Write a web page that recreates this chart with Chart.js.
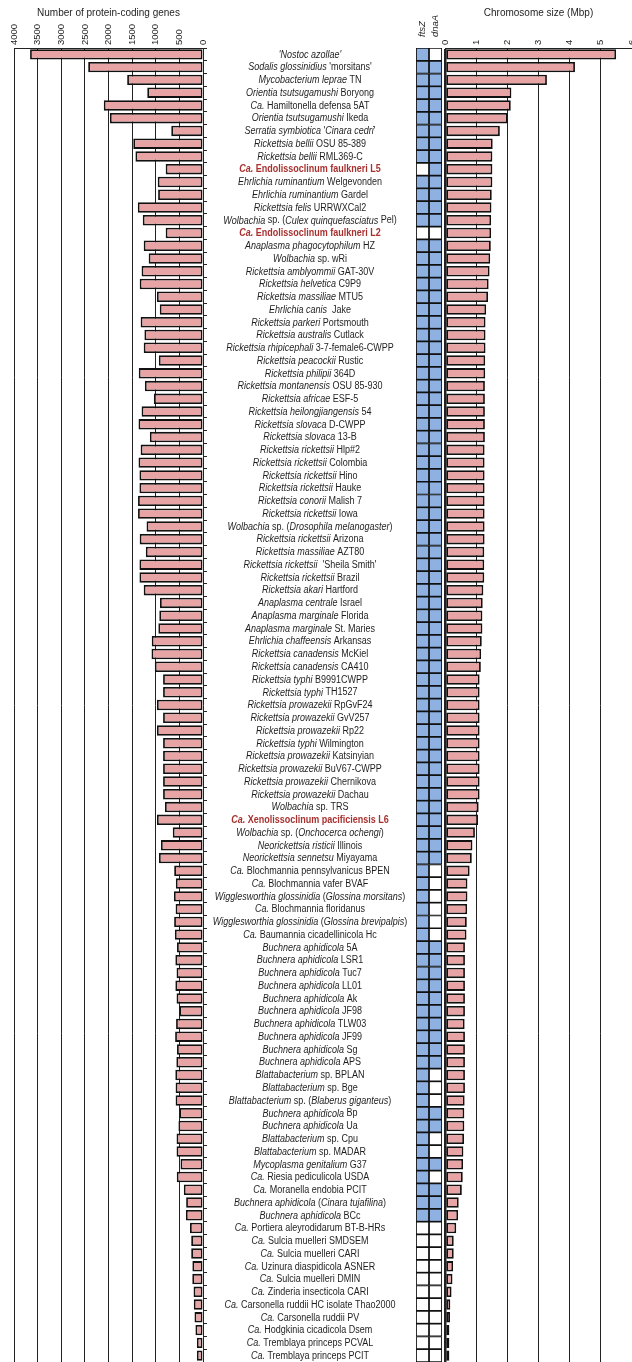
<!DOCTYPE html>
<html>
<head>
<meta charset="utf-8">
<script src="https://cdn.jsdelivr.net/npm/chart.js@4.4.1/dist/chart.umd.min.js"></script>
<style>
  html, body { margin: 0; padding: 0; background: #fff; overflow: hidden; }
  #wrap { position: relative; width: 632px; height: 1362px; overflow: hidden; }
  canvas { position: absolute; top: 0; }
  #genes { left: 0; }
  #markers { left: 405px; }
  #size { left: 440px; }
</style>
</head>
<body>
<div id="wrap">
  <canvas id="genes" width="420" height="1362"></canvas>
  <canvas id="markers" width="40" height="1362"></canvas>
  <canvas id="size" width="200" height="1362"></canvas>
</div>
<script>
// Genome names; text between underscores is set in italics.
const genomes = [
  "_'Nostoc azollae'_",
  "_Sodalis glossinidius_ 'morsitans'",
  "_Mycobacterium leprae_ TN",
  "_Orientia tsutsugamushi_ Boryong",
  "_Ca._ Hamiltonella defensa 5AT",
  "_Orientia tsutsugamushi_ Ikeda",
  "_Serratia symbiotica_ '_Cinara cedri_'",
  "_Rickettsia bellii_ OSU 85-389",
  "_Rickettsia bellii_ RML369-C",
  "_Ca._ Endolissoclinum faulkneri L5",
  "_Ehrlichia ruminantium_ Welgevonden",
  "_Ehrlichia ruminantium_ Gardel",
  "_Rickettsia felis_ URRWXCal2",
  "_Wolbachia_ sp. (_Culex quinquefasciatus_ Pel)",
  "_Ca._ Endolissoclinum faulkneri L2",
  "_Anaplasma phagocytophilum_ HZ",
  "_Wolbachia_ sp. wRi",
  "_Rickettsia amblyommii_ GAT-30V",
  "_Rickettsia helvetica_ C9P9",
  "_Rickettsia massiliae_ MTU5",
  "_Ehrlichia canis_  Jake",
  "_Rickettsia parkeri_ Portsmouth",
  "_Rickettsia australis_ Cutlack",
  "_Rickettsia rhipicephali_ 3-7-female6-CWPP",
  "_Rickettsia peacockii_ Rustic",
  "_Rickettsia philipii_ 364D",
  "_Rickettsia montanensis_ OSU 85-930",
  "_Rickettsia africae_ ESF-5",
  "_Rickettsia heilongjiangensis_ 54",
  "_Rickettsia slovaca_ D-CWPP",
  "_Rickettsia slovaca_ 13-B",
  "_Rickettsia rickettsii_ Hlp#2",
  "_Rickettsia rickettsii_ Colombia",
  "_Rickettsia rickettsii_ Hino",
  "_Rickettsia rickettsii_ Hauke",
  "_Rickettsia conorii_ Malish 7",
  "_Rickettsia rickettsii_ Iowa",
  "_Wolbachia_ sp. (_Drosophila melanogaster_)",
  "_Rickettsia rickettsii_ Arizona",
  "_Rickettsia massiliae_ AZT80",
  "_Rickettsia rickettsii_  'Sheila Smith'",
  "_Rickettsia rickettsii_ Brazil",
  "_Rickettsia akari_ Hartford",
  "_Anaplasma centrale_ Israel",
  "_Anaplasma marginale_ Florida",
  "_Anaplasma marginale_ St. Maries",
  "_Ehrlichia chaffeensis_ Arkansas",
  "_Rickettsia canadensis_ McKiel",
  "_Rickettsia canadensis_ CA410",
  "_Rickettsia typhi_ B9991CWPP",
  "_Rickettsia typhi_ TH1527",
  "_Rickettsia prowazekii_ RpGvF24",
  "_Rickettsia prowazekii_ GvV257",
  "_Rickettsia prowazekii_ Rp22",
  "_Rickettsia typhi_ Wilmington",
  "_Rickettsia prowazekii_ Katsinyian",
  "_Rickettsia prowazekii_ BuV67-CWPP",
  "_Rickettsia prowazekii_ Chernikova",
  "_Rickettsia prowazekii_ Dachau",
  "_Wolbachia_ sp. TRS",
  "_Ca._ Xenolissoclinum pacificiensis L6",
  "_Wolbachia_ sp. (_Onchocerca ochengi_)",
  "_Neorickettsia risticii_ Illinois",
  "_Neorickettsia sennetsu_ Miyayama",
  "_Ca._ Blochmannia pennsylvanicus BPEN",
  "_Ca._ Blochmannia vafer BVAF",
  "_Wigglesworthia glossinidia_ (_Glossina morsitans_)",
  "_Ca._ Blochmannia floridanus",
  "_Wigglesworthia glossinidia_ (_Glossina brevipalpis_)",
  "_Ca._ Baumannia cicadellinicola Hc",
  "_Buchnera aphidicola_ 5A",
  "_Buchnera aphidicola_ LSR1",
  "_Buchnera aphidicola_ Tuc7",
  "_Buchnera aphidicola_ LL01",
  "_Buchnera aphidicola_ Ak",
  "_Buchnera aphidicola_ JF98",
  "_Buchnera aphidicola_ TLW03",
  "_Buchnera aphidicola_ JF99",
  "_Buchnera aphidicola_ Sg",
  "_Buchnera aphidicola_ APS",
  "_Blattabacterium_ sp. BPLAN",
  "_Blattabacterium_ sp. Bge",
  "_Blattabacterium_ sp. (_Blaberus giganteus_)",
  "_Buchnera aphidicola_ Bp",
  "_Buchnera aphidicola_ Ua",
  "_Blattabacterium_ sp. Cpu",
  "_Blattabacterium_ sp. MADAR",
  "_Mycoplasma genitalium_ G37",
  "_Ca._ Riesia pediculicola USDA",
  "_Ca._ Moranella endobia PCIT",
  "_Buchnera aphidicola_ (_Cinara tujafilina_)",
  "_Buchnera aphidicola_ BCc",
  "_Ca._ Portiera aleyrodidarum BT-B-HRs",
  "_Ca._ Sulcia muelleri SMDSEM",
  "_Ca._ Sulcia muelleri CARI",
  "_Ca._ Uzinura diaspidicola ASNER",
  "_Ca._ Sulcia muelleri DMIN",
  "_Ca._ Zinderia insecticola CARI",
  "_Ca._ Carsonella ruddii HC isolate Thao2000",
  "_Ca._ Carsonella ruddii PV",
  "_Ca._ Hodgkinia cicadicola Dsem",
  "_Ca._ Tremblaya princeps PCVAL",
  "_Ca._ Tremblaya princeps PCIT"
];

// Genomes sequenced in this study (drawn in bold red)
const newGenomes = [
  "_Ca._ Endolissoclinum faulkneri L5",
  "_Ca._ Endolissoclinum faulkneri L2",
  "_Ca._ Xenolissoclinum pacificiensis L6"
];

// Number of protein-coding genes
const proteinGenes = [
  3660, 2430, 1605, 1180, 2100, 1970, 672, 1476, 1430, 790,
  958, 950, 1380, 1275, 790, 1255, 1150, 1300, 1340, 975,
  915, 1320, 1240, 1255, 935, 1360, 1230, 1040, 1300, 1365,
  1125, 1320, 1365, 1345, 1345, 1375, 1375, 1195, 1340, 1210,
  1345, 1345, 1255, 910, 925, 945, 1085, 1090, 1020, 845,
  845, 975, 845, 975, 845, 845, 845, 845, 845, 805,
  975, 640, 890, 932, 610, 575, 615, 580, 611, 595,
  550, 585, 560, 585, 560, 500, 570, 590, 550, 564,
  586, 580, 580, 500, 520, 560, 560, 476, 555, 406,
  357, 362, 275, 250, 250, 225, 227, 200, 195, 180,
  160, 130, 130
];

// Chromosome size (Mbp)
const chromosomeMbp = [
  5.49, 4.17, 3.27, 2.13, 2.11, 2.01, 1.76, 1.53, 1.52, 1.52,
  1.52, 1.50, 1.49, 1.48, 1.48, 1.47, 1.45, 1.43, 1.40, 1.38,
  1.32, 1.30, 1.30, 1.30, 1.29, 1.29, 1.28, 1.28, 1.28, 1.28,
  1.28, 1.27, 1.27, 1.27, 1.27, 1.27, 1.27, 1.27, 1.27, 1.26,
  1.26, 1.26, 1.23, 1.21, 1.20, 1.20, 1.18, 1.16, 1.15, 1.11,
  1.11, 1.11, 1.11, 1.11, 1.11, 1.11, 1.11, 1.11, 1.11, 1.08,
  1.06, 0.96, 0.88, 0.86, 0.79, 0.72, 0.72, 0.71, 0.70, 0.69,
  0.64, 0.64, 0.64, 0.64, 0.64, 0.64, 0.63, 0.64, 0.64, 0.64,
  0.64, 0.64, 0.63, 0.62, 0.62, 0.61, 0.59, 0.58, 0.57, 0.54,
  0.44, 0.42, 0.36, 0.28, 0.28, 0.26, 0.24, 0.21, 0.17, 0.16,
  0.14, 0.14, 0.14
];

// Presence (1) / absence (0) of the replication-initiation genes
const markerGenes = ["ftsZ", "dnaA"];
const ftsZ = [
  1, 1, 1, 1, 1, 1, 1, 1, 1, 0,
  1, 1, 1, 1, 0, 1, 1, 1, 1, 1,
  1, 1, 1, 1, 1, 1, 1, 1, 1, 1,
  1, 1, 1, 1, 1, 1, 1, 1, 1, 1,
  1, 1, 1, 1, 1, 1, 1, 1, 1, 1,
  1, 1, 1, 1, 1, 1, 1, 1, 1, 1,
  1, 1, 1, 1, 1, 1, 1, 1, 1, 1,
  1, 1, 1, 1, 1, 1, 1, 1, 1, 1,
  1, 1, 1, 1, 1, 1, 1, 1, 1, 1,
  1, 1, 0, 0, 0, 0, 0, 0, 0, 0,
  0, 0, 0
];
const dnaA = [
  0, 1, 1, 1, 1, 1, 1, 1, 1, 1,
  1, 1, 1, 1, 0, 1, 1, 1, 1, 1,
  1, 1, 1, 1, 1, 1, 1, 1, 1, 1,
  1, 1, 1, 1, 1, 1, 1, 1, 1, 1,
  1, 1, 1, 1, 1, 1, 1, 1, 1, 1,
  1, 1, 1, 1, 1, 1, 1, 1, 1, 1,
  1, 1, 1, 1, 0, 0, 0, 0, 0, 0,
  1, 1, 1, 1, 1, 1, 1, 1, 1, 1,
  0, 0, 0, 1, 1, 0, 0, 1, 0, 1,
  1, 1, 0, 0, 0, 0, 0, 0, 0, 0,
  0, 0, 0
];

const FONT = '"Liberation Sans", Arial, Helvetica, sans-serif';
const INK = '#1e1e1e';
const PINK = '#e8a4a5';
const BLUE = '#8eb1e2';
const RED = '#a8312f';
const AXIS_BAND = 48;      // height of the top axis band (title + rotated ticks)
const NAME_X = 310;        // centre of the genome-name column
const NAME_SQUEEZE = 0.9;  // condensed lettering for the names
const TICK_SIZE = 9.5;
// Rotated top-axis labels are shifted left by one line height; move them back onto their ticks
const TICK_SHIFT = TICK_SIZE * 1.2;

Chart.defaults.font.family = FONT;
Chart.defaults.color = INK;

function segmentsOf(label) {
  return label.split('_')
    .map((t, i) => ({ text: t, italic: i % 2 === 1 }))
    .filter(s => s.text.length);
}

// Draws the genome names (mixed roman/italic) between the two bar panels
const nameColumn = {
  id: 'nameColumn',
  afterDraw(chart) {
    const ctx = chart.ctx;
    const yScale = chart.scales.y;
    ctx.save();
    ctx.textBaseline = 'middle';
    ctx.textAlign = 'left';
    genomes.forEach((label, i) => {
      const bold = newGenomes.includes(label);
      const segs = segmentsOf(label);
      const fonts = segs.map(s => (s.italic ? 'italic ' : '') + (bold ? 'bold ' : '') + '10px ' + FONT);
      let total = 0;
      const widths = segs.map((s, k) => {
        ctx.font = fonts[k];
        const w = ctx.measureText(s.text).width;
        total += w;
        return w;
      });
      ctx.save();
      ctx.translate(NAME_X, yScale.getPixelForValue(i) + 0.5);
      ctx.scale(NAME_SQUEEZE, 1);
      ctx.fillStyle = bold ? RED : INK;
      let x = -total / 2;
      segs.forEach((s, k) => {
        ctx.font = fonts[k];
        ctx.fillText(s.text, x, 0);
        x += widths[k];
      });
      ctx.restore();
    });
    ctx.restore();
  }
};

const tickFont = { size: TICK_SIZE, family: FONT };
const titleFont = { size: 10, family: FONT };
const noPlugins = { legend: { display: false }, tooltip: { enabled: false } };
// Fixed-height top axis band, with no extra side padding for the rotated labels
const bandFit = s => {
  s.height = AXIS_BAND;
  s.paddingLeft = 0;
  s.paddingRight = 0;
};
const plainNumber = v => String(v);

// Left panel: protein-coding genes, axis running right-to-left
new Chart(document.getElementById('genes'), {
  type: 'bar',
  data: {
    labels: genomes,
    datasets: [{
      data: proteinGenes,
      backgroundColor: PINK,
      borderColor: '#111',
      borderWidth: 1.8,
      borderSkipped: false,
      barPercentage: 0.82,
      categoryPercentage: 1
    }]
  },
  options: {
    responsive: false,
    animation: false,
    indexAxis: 'y',
    layout: { padding: { left: 14, right: 213, top: 0, bottom: 0 } },
    plugins: noPlugins,
    scales: {
      x: {
        type: 'linear', position: 'top', min: 0, max: 4000, reverse: true,
        ticks: { stepSize: 500, minRotation: 90, maxRotation: 90, font: tickFont, color: INK, padding: 3, labelOffset: TICK_SHIFT, callback: plainNumber },
        grid: { color: '#222', lineWidth: 1, drawTicks: false },
        border: { display: true, color: '#222', width: 1 },
        title: { display: true, text: 'Number of protein-coding genes', font: titleFont, color: INK, padding: { top: 7, bottom: 0 } },
        afterFit: bandFit
      },
      y: {
        type: 'category', position: 'right', offset: true,
        ticks: { display: false },
        grid: { drawOnChartArea: false, drawTicks: true, tickLength: 4, color: '#222', offset: true },
        border: { display: false },
        afterFit: s => { s.width = 4; }
      }
    }
  },
  plugins: [nameColumn]
});

// Middle panel: presence/absence grid of ftsZ and dnaA
new Chart(document.getElementById('markers'), {
  type: 'bar',
  data: {
    labels: genomes,
    datasets: [ftsZ, dnaA].map((flags, col) => ({
      data: flags.map(() => [col, col + 1]),
      backgroundColor: flags.map(v => (v ? BLUE : '#ffffff')),
      borderColor: '#111',
      borderWidth: 1.2,
      borderSkipped: false,
      barPercentage: 1,
      categoryPercentage: 1,
      grouped: false
    }))
  },
  options: {
    responsive: false,
    animation: false,
    indexAxis: 'y',
    layout: { padding: { left: 11, right: 3, top: 0, bottom: 0 } },
    plugins: noPlugins,
    scales: {
      x: {
        type: 'linear', position: 'top', min: 0, max: 2,
        afterBuildTicks: s => { s.ticks = markerGenes.map((g, i) => ({ value: i + 0.5 })); },
        ticks: {
          minRotation: 90, maxRotation: 90, padding: 3, color: INK, labelOffset: TICK_SHIFT,
          font: { size: TICK_SIZE, family: FONT, style: 'italic' },
          callback: v => markerGenes[Math.round(v - 0.5)]
        },
        grid: { display: false },
        border: { display: false },
        afterFit: bandFit
      },
      y: { type: 'category', display: false, offset: true }
    }
  }
});

// Right panel: chromosome size
new Chart(document.getElementById('size'), {
  type: 'bar',
  data: {
    labels: genomes,
    datasets: [{
      data: chromosomeMbp,
      backgroundColor: PINK,
      borderColor: '#111',
      borderWidth: 1.8,
      borderSkipped: false,
      barPercentage: 0.82,
      categoryPercentage: 1
    }]
  },
  options: {
    responsive: false,
    animation: false,
    indexAxis: 'y',
    layout: { padding: { left: 5, right: 8, top: 0, bottom: 0 } },
    plugins: noPlugins,
    scales: {
      x: {
        type: 'linear', position: 'top', min: 0, max: 6,
        ticks: { stepSize: 1, minRotation: 90, maxRotation: 90, font: tickFont, color: INK, padding: 3, labelOffset: TICK_SHIFT, callback: plainNumber },
        grid: { color: '#222', lineWidth: c => (c.tick && c.tick.value === 0 ? 2.5 : 1), drawTicks: false },
        border: { display: true, color: '#222', width: 1 },
        title: { display: true, text: 'Chromosome size (Mbp)', font: titleFont, color: INK, padding: { top: 7, bottom: 0 } },
        afterFit: bandFit
      },
      y: { type: 'category', display: false, offset: true }
    }
  }
});
</script>
</body>
</html>
